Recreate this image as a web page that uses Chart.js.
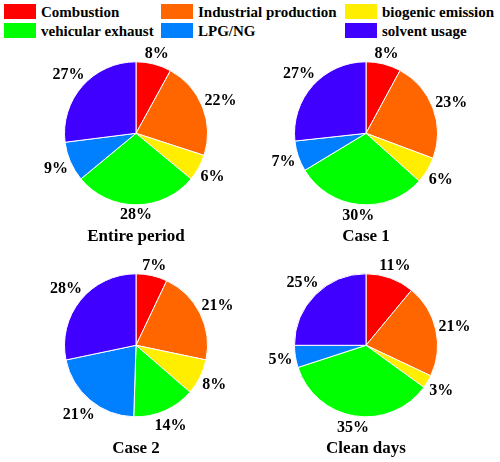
<!DOCTYPE html>
<html>
<head>
<meta charset="utf-8">
<script src="https://cdn.jsdelivr.net/npm/chart.js@4"></script>
<style>
  body { margin: 0; background: #fff; width: 500px; height: 462px; position: relative; overflow: hidden; }
  canvas { position: absolute; }
  .leg { position: absolute; font: bold 15px "Liberation Serif", "Times New Roman", serif; color: #000; line-height: 16px; white-space: nowrap; }
  .sw { position: absolute; width: 32px; height: 15px; }
</style>
</head>
<body>
<canvas id="c0" width="250" height="210" style="left:0;top:40px"></canvas>
<canvas id="c1" width="250" height="210" style="left:250px;top:40px"></canvas>
<canvas id="c2" width="250" height="210" style="left:0;top:252px"></canvas>
<canvas id="c3" width="250" height="210" style="left:250px;top:252px"></canvas>
<script>
const categories = ['Combustion', 'Industrial production', 'biogenic emission', 'vehicular exhaust', 'LPG/NG', 'solvent usage'];
const entirePeriod = [8, 22, 6, 28, 9, 27];
const case1 = [8, 23, 6, 30, 7, 27];
const case2 = [7, 21, 8, 14, 21, 28];
const cleanDays = [11, 21, 3, 35, 5, 25];
const titles = ['Entire period', 'Case 1', 'Case 2', 'Clean days'];

const colors = ['#ff0000', '#ff6600', '#ffee00', '#00ff00', '#0080ff', '#4000ff'];
const serif = '"Liberation Serif", "Times New Roman", serif';

// legend (html)
const legX = [4, 161, 345];
categories.forEach((name, i) => {
    const col = i % 3, row = Math.floor(i / 3);
    const sw = document.createElement('div');
    sw.className = 'sw';
    sw.style.left = legX[col] + 'px';
    sw.style.top = (4 + row * 19.3) + 'px';
    sw.style.background = colors[i];
    document.body.appendChild(sw);
    const t = document.createElement('div');
    t.className = 'leg';
    t.textContent = name;
    t.style.left = (legX[col] + 37) + 'px';
    t.style.top = (4 + row * 19.3) + 'px';
    document.body.appendChild(t);
});

// percentage labels outside each slice
const outsideLabels = {
    id: 'outsideLabels',
    afterDatasetsDraw(chart) {
        const ctx = chart.ctx;
        const data = chart.data.datasets[0].data;
        ctx.save();
        ctx.font = 'bold 16px ' + serif;
        ctx.fillStyle = '#000';
        ctx.textAlign = 'center';
        ctx.textBaseline = 'middle';
        chart.getDatasetMeta(0).data.forEach((arc, i) => {
            const mid = (arc.startAngle + arc.endAngle) / 2;
            const txt = data[i] + '%';
            const w = ctx.measureText(txt).width;
            const c = Math.cos(mid), s = Math.sin(mid);
            const d = arc.outerRadius + 2 + Math.abs(c) * w / 2 + Math.abs(s) * 7;
            ctx.fillText(txt, arc.x + c * d, arc.y + s * d + 1);
        });
        ctx.restore();
    }
};

const series = [entirePeriod, case1, case2, cleanDays];
const pads = [
    { left: 64, right: 42, top: 21, bottom: 3 },
    { left: 44, right: 62, top: 21, bottom: 3 },
    { left: 64, right: 42, top: 21, bottom: 3 },
    { left: 44, right: 62, top: 21, bottom: 3 }
];

series.forEach((vals, k) => {
    new Chart(document.getElementById('c' + k), {
        type: 'pie',
        data: {
            labels: categories,
            datasets: [{
                data: vals,
                backgroundColor: colors,
                borderColor: '#ffffff',
                borderWidth: 1,
                hoverOffset: 0
            }]
        },
        options: {
            responsive: false,
            animation: false,
            layout: { padding: pads[k] },
            plugins: {
                legend: { display: false },
                tooltip: { enabled: false },
                title: {
                    display: true,
                    position: 'bottom',
                    text: titles[k],
                    color: '#000',
                    font: { family: serif, size: 17, weight: 'bold' },
                    padding: { top: 21, bottom: 0 }
                }
            }
        },
        plugins: [outsideLabels]
    });
});
</script>
</body>
</html>
